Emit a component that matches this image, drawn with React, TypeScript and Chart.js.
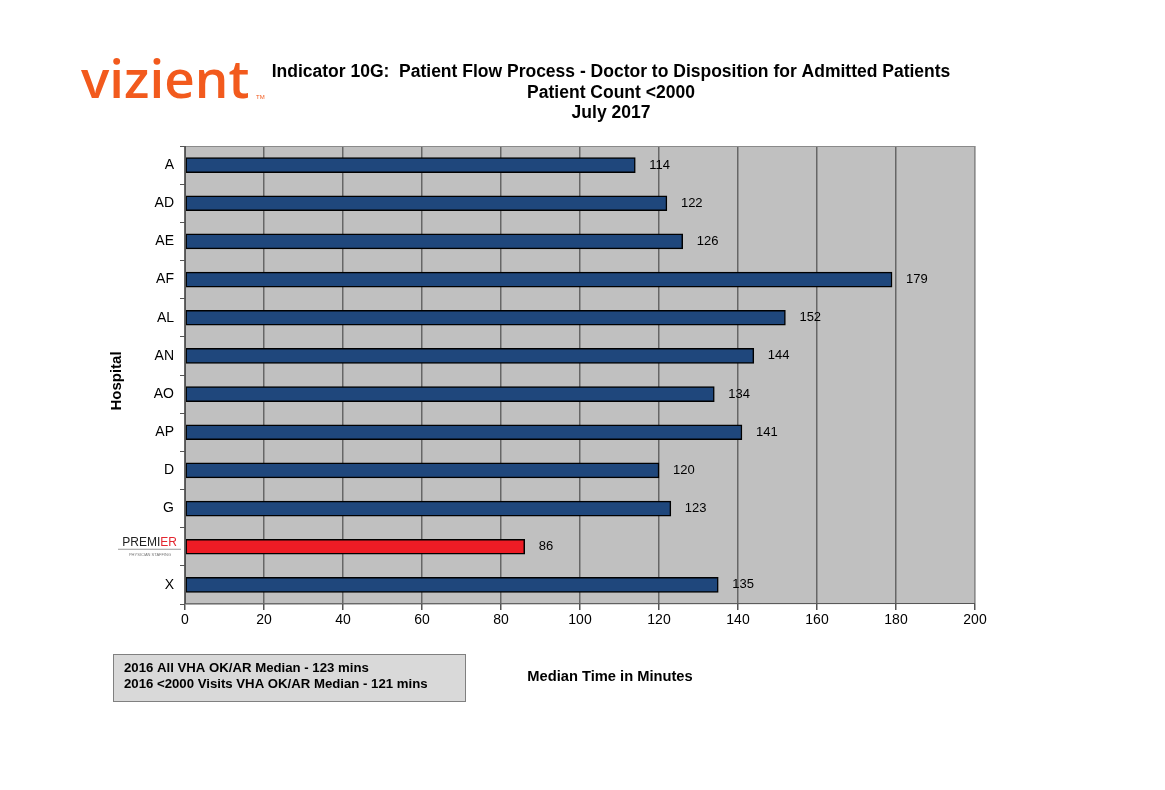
import React, { useEffect, useRef } from "react";
import { Chart, registerables } from "chart.js";

Chart.register(...registerables);

const hospitals = ["A", "AD", "AE", "AF", "AL", "AN", "AO", "AP", "D", "G", "PREMIER", "X"];
const medianMinutes = [114, 122, 126, 179, 152, 144, 134, 141, 120, 123, 86, 135];
const xTicks = [0, 20, 40, 60, 80, 100, 120, 140, 160, 180, 200];
const titleLines = [
  "Indicator 10G:  Patient Flow Process - Doctor to Disposition for Admitted Patients",
  "Patient Count <2000",
  "July 2017",
];
const noteLines = [
  "2016 All VHA OK/AR Median - 123 mins",
  "2016 <2000 Visits VHA OK/AR Median - 121 mins",
];
const highlight = "PREMIER";

const FONT = "'Liberation Sans', Arial, sans-serif";

const decorPlugin = {
  id: "decor",
  beforeDraw(chart: any) {
    const { ctx, chartArea } = chart;
    ctx.save();
    ctx.fillStyle = "#ffffff";
    ctx.fillRect(0, 0, chart.width, chart.height);
    ctx.fillStyle = "#c0c0c0";
    ctx.fillRect(chartArea.left, chartArea.top, chartArea.right - chartArea.left, chartArea.bottom - chartArea.top);
    ctx.restore();
  },
  afterDraw(chart: any) {
    const { ctx, chartArea } = chart;
    const yScale = chart.scales.y;
    ctx.save();
    // plot border
    ctx.strokeStyle = "#8a8a8a";
    ctx.lineWidth = 1;
    ctx.strokeRect(chartArea.left + 0.5, chartArea.top + 0.5, chartArea.right - chartArea.left - 1, chartArea.bottom - chartArea.top - 1);
    ctx.strokeStyle = "#555";
    ctx.beginPath();
    ctx.moveTo(chartArea.left + 0.5, chartArea.top);
    ctx.lineTo(chartArea.left + 0.5, chartArea.bottom);
    ctx.lineTo(chartArea.right, chartArea.bottom - 0.5);
    ctx.stroke();

    // logo
    ctx.fillStyle = "#f25a1d";
    ctx.font = `600 53px 'Open Sans', ${FONT}`;
    ctx.textBaseline = "alphabetic";
    ctx.textAlign = "left";
    ctx.fillText("vizient", 81, 98);
    ctx.font = `6px ${FONT}`;
    ctx.fillText("TM", 256, 99);

    // title
    ctx.fillStyle = "#000";
    ctx.textAlign = "center";
    ctx.textBaseline = "middle";
    ctx.font = `bold 17.5px ${FONT}`;
    const tys = [72, 93, 113];
    titleLines.forEach((t, i) => ctx.fillText(t, 611, tys[i]));

    // y axis title
    ctx.save();
    ctx.translate(117, 381);
    ctx.rotate(-Math.PI / 2);
    ctx.font = `bold 15px ${FONT}`;
    ctx.fillText("Hospital", 0, 0);
    ctx.restore();

    // x axis title
    ctx.font = `bold 14.7px ${FONT}`;
    ctx.fillText("Median Time in Minutes", 610, 677);

    // note box
    ctx.fillStyle = "#d9d9d9";
    ctx.fillRect(113, 654, 352, 47);
    ctx.strokeStyle = "#808080";
    ctx.strokeRect(113.5, 654.5, 352, 47);
    ctx.fillStyle = "#000";
    ctx.textAlign = "left";
    ctx.font = `bold 13.2px ${FONT}`;
    noteLines.forEach((t, i) => ctx.fillText(t, 124, 668 + i * 16));

    // premier label
    const idx = hospitals.indexOf(highlight);
    const py = yScale.getPixelForValue(idx);
    ctx.textAlign = "right";
    ctx.textBaseline = "alphabetic";
    ctx.font = `12px ${FONT}`;
    const erW = ctx.measureText("ER").width;
    ctx.fillStyle = "#e3262f";
    ctx.fillText("ER", 177, py - 1);
    ctx.fillStyle = "#222";
    ctx.fillText("PREMI", 177 - erW, py - 1);
    ctx.strokeStyle = "#999";
    ctx.beginPath();
    ctx.moveTo(118, py + 2.5);
    ctx.lineTo(181, py + 2.5);
    ctx.stroke();
    ctx.font = `4px ${FONT}`;
    ctx.fillStyle = "#777";
    ctx.textAlign = "center";
    ctx.fillText("PHYSICIAN STAFFING", 150, py + 9);

    // value labels
    const meta = chart.getDatasetMeta(0);
    ctx.fillStyle = "#000";
    ctx.textAlign = "left";
    ctx.textBaseline = "middle";
    ctx.font = `13px ${FONT}`;
    meta.data.forEach((el: any, i: number) => {
      ctx.fillText(String(medianMinutes[i]), el.x + 14, el.y);
    });
    ctx.restore();
  },
};

export default function App() {
  const ref = useRef<HTMLCanvasElement>(null);
  useEffect(() => {
    if (!ref.current) return;
    const chart = new Chart(ref.current, {
      type: "bar",
      data: {
        labels: hospitals,
        datasets: [
          {
            data: medianMinutes,
            backgroundColor: hospitals.map((h) => (h === highlight ? "#ee1c25" : "#1f477c")),
            borderColor: "#000",
            borderWidth: 1.5,
            borderSkipped: false,
            barThickness: 15,
          },
        ],
      },
      options: {
        indexAxis: "y",
        animation: false,
        responsive: false,
        devicePixelRatio: 1,
        layout: { padding: { left: 110, right: 190, top: 146, bottom: 146 } },
        plugins: { legend: { display: false }, tooltip: { enabled: false } },
        scales: {
          x: {
            min: 0,
            max: 200,
            afterBuildTicks: (s: any) => {
              s.ticks = xTicks.map((v) => ({ value: v }));
            },
            afterFit: (s: any) => {
              s.height = 40;
            },
            grid: {
              color: "#666",
              lineWidth: 1.5,
              drawTicks: true,
              tickLength: 6,
              tickColor: "#555",
            },
            border: { display: false },
            ticks: { color: "#000", font: { family: FONT, size: 14 }, padding: 2, maxRotation: 0 },
          },
          y: {
            afterFit: (s: any) => {
              s.width = 75;
            },
            grid: { drawOnChartArea: false, offset: true, tickLength: 5, tickColor: "#555" },
            border: { display: false },
            ticks: {
              color: "#000",
              font: { family: FONT, size: 14 },
              padding: 6,
              callback: (_v: any, i: number) => (hospitals[i] === highlight ? "" : hospitals[i]),
            },
          },
        },
      },
      plugins: [decorPlugin],
    });
    return () => chart.destroy();
  }, []);
  return (
    <div style={{ position: "absolute", left: 0, top: 0 }}>
      <canvas ref={ref} width={1165} height={790} style={{ display: "block" }} />
    </div>
  );
}
